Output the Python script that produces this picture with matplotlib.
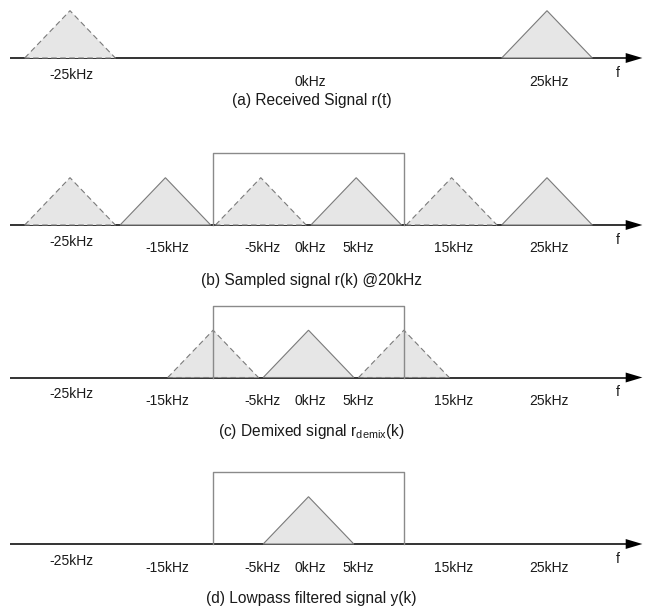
import matplotlib
matplotlib.use("Agg")
import matplotlib.pyplot as plt

plt.rcParams['font.family'] = ['Liberation Sans', 'DejaVu Sans']
plt.rcParams['mathtext.fontset'] = 'custom'
plt.rcParams['mathtext.rm'] = 'Liberation Sans'
plt.rcParams['lines.scale_dashes'] = False

# ---------------- data (frequencies in kHz) ----------------
captions = [
    "(a) Received Signal r(t)",
    "(b) Sampled signal r(k) @20kHz",
    r"(c) Demixed signal r$_\mathregular{demix}$(k)",
    "(d) Lowpass filtered signal y(k)",
]
# spectrum copies: centre frequencies, solid = drawn solid, dashed = drawn dashed
solid_centres = [[25], [-15, 5, 25], [0], [0]]
dashed_centres = [[-25], [-25, -5, 15], [-10, 10], []]
half_width = 4.75          # kHz half base of each spectrum triangle
peak_amp = 1.0
# lowpass filter (panels b-d)
filter_edges = [None, [-10, 10], [-10, 10], [-10, 10]]
filter_amp = 1.52
# frequency labels per panel
label_freqs = [
    [-25, 0, 25],
    [-25, -15, -5, 0, 5, 15, 25],
    [-25, -15, -5, 0, 5, 15, 25],
    [-25, -15, -5, 0, 5, 15, 25],
]

# ---------------- layout ----------------
W, H = 648, 607
fig = plt.figure(figsize=(W / 100, H / 100), dpi=100)
PX_PER_KHZ = 9.54
X0_PX = 308.5
PX_PER_AMP = 47.3
axis_px = [58, 225, 377.5, 544]
caption_off = [42, 55, 54, 54]
xlim = (-X0_PX / PX_PER_KHZ, (W - X0_PX) / PX_PER_KHZ)
axis_start, axis_end = -31.3, 35.0
head_len, head_half = 1.75, 0.105

fill_c = '#e6e6e6'
edge_c = '#7a7a7a'
rect_c = '#8a8a8a'
txt_c = '#1a1a1a'

for i in range(4):
    ax = fig.add_axes([0, 0, 1, 1])
    ax.patch.set_alpha(0)
    ax.set_xlim(*xlim)
    ax.set_ylim((axis_px[i] - H) / PX_PER_AMP, axis_px[i] / PX_PER_AMP)
    ax.axis('off')
    p = 1.0 / PX_PER_AMP

    # frequency axis with arrow
    ax.plot([axis_start, axis_end - head_len], [0, 0], color='#111111', lw=1.2,
            solid_capstyle='butt', zorder=2)
    ax.fill([axis_end - head_len, axis_end, axis_end - head_len],
            [head_half, 0, -head_half], color='#000000', lw=0, zorder=2)

    # spectrum triangles
    for c in solid_centres[i]:
        ax.fill([c - half_width, c, c + half_width], [0, peak_amp, 0],
                facecolor=fill_c, edgecolor=edge_c, lw=0.8, zorder=3)
    for c in dashed_centres[i]:
        ax.fill([c - half_width, c, c + half_width], [0, peak_amp, 0],
                facecolor=fill_c, edgecolor='none', zorder=3)
        ax.plot([c - half_width, c, c + half_width, c - half_width],
                [0, peak_amp, 0, 0], color=edge_c, lw=0.8,
                dashes=(4, 2.5), zorder=3.5)

    # lowpass filter
    if filter_edges[i] is not None:
        lo, hi = filter_edges[i]
        ax.plot([lo, lo, hi, hi], [0, filter_amp, filter_amp, 0],
                color=rect_c, lw=1.0, zorder=4)

    # frequency labels
    for f in label_freqs[i]:
        off = 17 if f == -25 else 23.5
        ax.text(f + 0.2, -off * p, f"{f}kHz", ha='center', va='center',
                fontsize=10, color=txt_c)
    ax.text((618 - X0_PX) / PX_PER_KHZ, -15 * p, "f", ha='center', va='center',
            fontsize=10, color=txt_c)

    # caption
    ax.text(0.3, -caption_off[i] * p, captions[i], ha='center', va='center',
            fontsize=11.2, color=txt_c)

fig.savefig("out.png", dpi=100)
